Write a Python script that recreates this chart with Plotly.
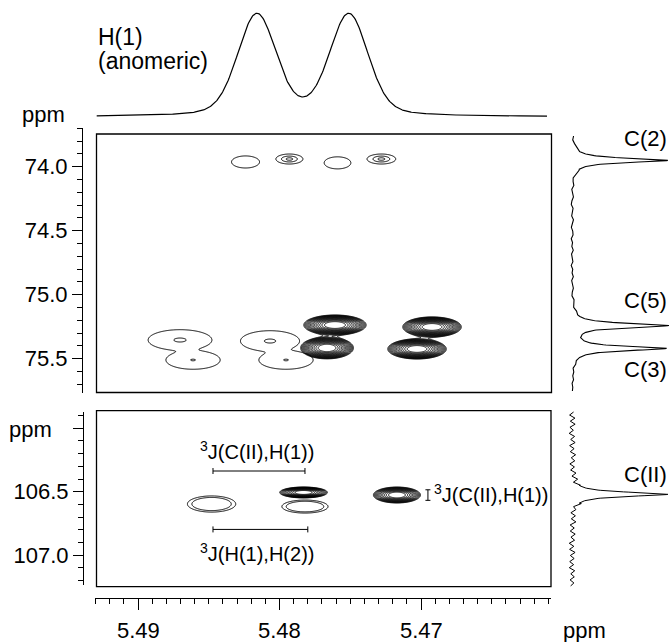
import numpy as np
import plotly.graph_objects as go

W, H = 669, 642
FONT = "Liberation Sans, Arial, Helvetica, sans-serif"

# ---------------- data ----------------
# 1H projection (anomeric H(1) doublet)
h1_centers = [5.4816, 5.4751]
h1_heights = [1.0, 1.0]
h1_sigma = 0.00134
h1_lor_hwhm = 0.00177
h1_lor_frac = 0.25

# 13C projections
c_top_centers = [73.95, 75.24, 75.42]
c_top_heights = [1.0, 1.0, 0.97]
c_top_labels = ["C(2)", "C(5)", "C(3)"]
c_low_centers = [106.52]
c_low_heights = [1.0]
c_low_labels = ["C(II)"]
c_hwhm = 0.02

# baseline wiggles (pixels)
noise_top = [0.5, -0.8, 0.3, 1.0, -0.4, -1.2, 0.6, 0.2, -0.7, 1.1, 0.4, -0.9, -0.3, 0.8, -1.0, 0.2,
             0.9, -0.5, -1.1, 0.7, 0.1, -0.6, 1.2, -0.2, -0.9, 0.5, 0.8, -1.0, 0.3, -0.4, 1.0, -0.7,
             0.2, 0.6, -1.1, 0.4, -0.3, 0.9, -0.8, 0.1, 0.7, -0.5, -1.0, 0.8, 0.3, -0.6, 1.1, -0.2,
             -0.9, 0.5, 0.2, -0.7, 1.0, -0.4, 0.6, -1.0, 0.3, 0.8, -0.5, -0.2, 0.9, -0.8, 0.4, -0.3,
             0.7, -0.6, 0.2, -0.1]
noise_low = [1.5, -2.5, 2.8, -1.8, 3.0, -2.2, 1.2, -3.0, 2.4, -1.5, 2.9, -2.6, 1.8, -2.0, 3.2, -1.2,
             2.2, -2.8, 1.6, -2.4, 2.6, -1.9, 3.0, -2.7, 1.4, -2.1, 2.5, -3.1, 1.9, -1.6, 2.7, -2.3,
             1.3, -2.9, 2.1, -1.7, 3.1, -2.5, 1.7, -2.2, 2.8, -1.4, 2.3, -3.0, 1.6, -2.6, 2.9, -1.8,
             2.0, -2.4, 1.5, -2.8, 2.6, -1.3, 2.2, -2.0, 1.8, -1.5]

# 2D cross peaks (x: 1H ppm, y: 13C ppm, sx/sy: widths, amp)
single_x = [5.4824, 5.4759]; single_y = [73.963, 73.970]
single_sx = [0.00084, 0.00080]; single_sy = [0.040, 0.040]; single_amp = [1.0, 1.0]

ring_x = [5.4793, 5.4728]; ring_y = [73.940, 73.940]
ring_sx = [0.00049, 0.00052]; ring_sy = [0.020, 0.020]; ring_amp = [1.0, 1.0]

pair_x = [5.48703, 5.48611, 5.48067, 5.47954]; pair_y = [75.354, 75.510, 75.362, 75.510]
pair_sx = [0.00095, 0.00082, 0.00088, 0.00082]; pair_sy = [0.034, 0.031, 0.034, 0.031]
pair_amp = [1.0, 0.92, 1.0, 0.92]

bold_x = [5.47608, 5.47664, 5.46922, 5.47028]; bold_y = [75.237, 75.416, 75.252, 75.424]
bold_sx = [0.00098, 0.00083, 0.00092, 0.00092]; bold_sy = [0.035, 0.038, 0.035, 0.035]
bold_amp = [1.0, 1.0, 1.0, 1.0]

lbold_x = [5.4783, 5.4717]; lbold_y = [106.506, 106.526]
lbold_sx = [0.00075, 0.00074]; lbold_sy = [0.0192, 0.028]; lbold_amp = [1.0, 1.0]

lopen_x = [5.4848, 5.4782]; lopen_y = [106.597, 106.617]
lopen_sx = [0.0011, 0.00105]; lopen_sy = [0.041, 0.033]; lopen_amp = [1.0, 1.0]

# coupling bars (ppm)
jbar_top = [5.4847, 5.4782, 106.337]
jbar_bot = [5.4847, 5.4780, 106.797]
jsmall = [5.46951, 106.485, 106.568]

x_ticks = [5.49, 5.48, 5.47]
x_ticktext = ["5.49", "5.48", "5.47"]
yt_ticks = [74.0, 74.5, 75.0, 75.5]
yt_ticktext = ["74.0", "74.5", "75.0", "75.5"]
yb_ticks = [106.0, 106.5, 107.0]
yb_ticktext = ["", "106.5", "107.0"]

# ---------------- geometry helpers ----------------
def X(px):
    return px / W

def Y(py):
    return 1 - py / H

def ppm_h(px):
    return 5.49 - (px - 138.0) / 14150.0

def ppm_ct(py):
    return 74.0 + (py - 166.7) / 128.0

def ppm_cb(py):
    return 106.5 + (py - 491.7) / 127.0

BASE = 572.0   # projection baseline (px)
SPAN = 96.0    # projection full height (px)

# ---------------- compute shapes ----------------
xg = np.linspace(ppm_h(96.5), ppm_h(551), 800)
ygt = np.linspace(ppm_ct(134), ppm_ct(392.5), 480)
ygb = np.linspace(ppm_cb(410.7), ppm_cb(586.7), 360)


def peaks2d(xs, ys, sxs, sys, amps, yg):
    XX, YY = np.meshgrid(xg, yg)
    Z = np.zeros_like(XX)
    for x0, y0, sx, sy, a in zip(xs, ys, sxs, sys, amps):
        Z += a * np.exp(-0.5 * ((XX - x0) / sx) ** 2 - 0.5 * ((YY - y0) / sy) ** 2)
    return Z


def contour(Z, yg, yaxis, start, end, size, width=1.0):
    return go.Contour(x=xg, y=yg, z=Z, yaxis=yaxis, xaxis="x", autocontour=False,
                      contours=dict(coloring="lines", start=start, end=end, size=size),
                      colorscale=[[0, "black"], [1, "black"]], line=dict(width=width, color="black"),
                      showscale=False, hoverinfo="skip")


def logz(Z):
    return np.log(Z + 1e-12)


fig = go.Figure()

fig.add_trace(contour(peaks2d(single_x, single_y, single_sx, single_sy, single_amp, ygt), ygt, "y", 0.5, 0.6, 0.5))
fig.add_trace(contour(peaks2d(ring_x, ring_y, ring_sx, ring_sy, ring_amp, ygt), ygt, "y", 0.15, 0.89, 0.37))
fig.add_trace(contour(peaks2d(pair_x, pair_y, pair_sx, pair_sy, pair_amp, ygt), ygt, "y", 0.06, 0.9, 0.84))
# dense (geometrically spaced) contour levels for the strong cross peaks
fig.add_trace(contour(logz(peaks2d(bold_x, bold_y, bold_sx, bold_sy, bold_amp, ygt)), ygt, "y",
                      np.log(0.08), np.log(0.82), 0.16, 0.9))
fig.add_trace(contour(logz(peaks2d(lbold_x, lbold_y, lbold_sx, lbold_sy, lbold_amp, ygb)), ygb, "y2",
                      np.log(0.08), np.log(0.82), 0.2, 0.9))
fig.add_trace(contour(peaks2d(lopen_x, lopen_y, lopen_sx, lopen_sy, lopen_amp, ygb), ygb, "y2", 0.3, 0.45, 0.15))

# 1H projection on top
xh = np.linspace(ppm_h(96.7), ppm_h(547), 600)
vh = np.zeros_like(xh)
for c, hgt in zip(h1_centers, h1_heights):
    g = np.exp(-0.5 * ((xh - c) / h1_sigma) ** 2)
    l = 1.0 / (1.0 + ((xh - c) / h1_lor_hwhm) ** 2)
    vh += hgt * ((1 - h1_lor_frac) * g + h1_lor_frac * l)
fig.add_trace(go.Scatter(x=xh, y=vh, xaxis="x", yaxis="y5", mode="lines",
                         line=dict(color="black", width=1.2), hoverinfo="skip"))


def projection(centers, heights, y0, y1, noise, dense_n):
    ynoise = np.linspace(y0, y1, len(noise))
    keep = [i for i, yy in enumerate(ynoise) if min(abs(yy - c) for c in centers) > 0.07]
    pts_y = list(ynoise[keep])
    pts_n = [noise[i] / SPAN for i in keep]
    for c in centers:
        d = np.linspace(c - 0.07, c + 0.07, dense_n)
        pts_y += list(d)
        pts_n += [0.0] * dense_n
    order = np.argsort(pts_y)
    ys = np.array(pts_y)[order]
    ns = np.array(pts_n)[order]
    v = np.zeros_like(ys)
    for c, hgt in zip(centers, heights):
        v += hgt / (1.0 + ((ys - c) / c_hwhm) ** 2)
    return v + ns, ys


vt, yt = projection(c_top_centers, c_top_heights, ppm_ct(136), ppm_ct(391), noise_top, 80)
fig.add_trace(go.Scatter(x=vt, y=yt, xaxis="x2", yaxis="y", mode="lines",
                         line=dict(color="black", width=1.1), hoverinfo="skip"))
vb, yb = projection(c_low_centers, c_low_heights, ppm_cb(412), ppm_cb(586), noise_low, 80)
fig.add_trace(go.Scatter(x=vb, y=yb, xaxis="x2", yaxis="y2", mode="lines",
                         line=dict(color="black", width=1.0), hoverinfo="skip"))

# dummy traces to make tick axes exist
fig.add_trace(go.Scatter(x=[None], y=[None], xaxis="x", yaxis="y3", showlegend=False, hoverinfo="skip"))
fig.add_trace(go.Scatter(x=[None], y=[None], xaxis="x", yaxis="y4", showlegend=False, hoverinfo="skip"))

# ---------------- shapes ----------------
shapes = []
box = dict(type="rect", xref="paper", yref="paper", line=dict(color="black", width=1.3), fillcolor="rgba(0,0,0,0)")
shapes.append(dict(box, x0=X(96.5), x1=X(551.5), y0=Y(392.5), y1=Y(134)))
shapes.append(dict(box, x0=X(96.5), x1=X(551), y0=Y(586.7), y1=Y(410.7)))

cap_y = 3.0 / 127.0
for xa, xb, yy in [jbar_top, jbar_bot]:
    shapes.append(dict(type="line", xref="x", yref="y2", x0=xa, x1=xb, y0=yy, y1=yy, line=dict(color="black", width=1)))
    for xe in (xa, xb):
        shapes.append(dict(type="line", xref="x", yref="y2", x0=xe, x1=xe, y0=yy - cap_y, y1=yy + cap_y,
                           line=dict(color="black", width=1)))
xs_, ya_, yb_ = jsmall
capw = 2.5 / 14150.0
shapes.append(dict(type="line", xref="x", yref="y2", x0=xs_, x1=xs_, y0=ya_, y1=yb_, line=dict(color="black", width=1)))
for yy in (ya_, yb_):
    shapes.append(dict(type="line", xref="x", yref="y2", x0=xs_ - capw, x1=xs_ + capw, y0=yy, y1=yy,
                       line=dict(color="black", width=1)))

# ---------------- annotations ----------------
ann = []


def text(t, px, py, size=22, xanchor="center"):
    ann.append(dict(text=t, x=X(px), y=Y(py), xref="paper", yref="paper", showarrow=False,
                    xanchor=xanchor, yanchor="middle", font=dict(family=FONT, size=size, color="black")))


text("H(1)", 96, 37, 23, "left")
text("(anomeric)", 96, 61, 23, "left")
text("ppm", 67, 115, 22, "right")
text("ppm", 54, 429, 22, "right")
text("ppm", 584, 630, 22)
text(c_top_labels[0], 645, 139, 22)
text(c_top_labels[1], 645, 300, 22)
text(c_top_labels[2], 645, 369, 22)
text(c_low_labels[0], 645, 474, 22)
text("<sup>3</sup>J(C(II),H(1))", 257, 450, 20)
text("<sup>3</sup>J(H(1),H(2))", 257, 552, 20)
text("<sup>3</sup>J(C(II),H(1))", 432, 493, 20, "left")
# bottom tick labels placed at their ppm values
for tv, tt in zip(x_ticks, x_ticktext):
    ann.append(dict(text=tt, x=tv, xref="x", y=Y(630), yref="paper", showarrow=False,
                    xanchor="center", yanchor="middle", font=dict(family=FONT, size=22, color="black")))

# ---------------- layout ----------------
tickfont = dict(family=FONT, size=22, color="black")
hidden = dict(visible=False, showgrid=False, zeroline=False, fixedrange=True)

fig.update_layout(
    width=W, height=H, margin=dict(l=0, r=0, t=0, b=0),
    paper_bgcolor="white", plot_bgcolor="rgba(0,0,0,0)", showlegend=False,
    shapes=shapes, annotations=ann,
    xaxis=dict(domain=[X(95), X(550.5)], range=[ppm_h(95), ppm_h(550.5)], anchor="free", position=Y(598),
               showline=True, linecolor="black", linewidth=1, ticks="outside", ticklen=11, tickwidth=1,
               tickcolor="black", tickmode="array", tickvals=x_ticks, ticktext=x_ticktext,
               showticklabels=False, showgrid=False, zeroline=False, fixedrange=True,
               minor=dict(ticks="outside", ticklen=5, tickwidth=1, tickcolor="black", dtick=0.001,
                          tick0=5.47, showgrid=False)),
    xaxis2=dict(hidden, domain=[X(560), 1.0], range=[(560 - BASE) / SPAN, (669 - BASE) / SPAN], anchor="y"),
    yaxis=dict(hidden, domain=[Y(392.5), Y(134)], range=[ppm_ct(392.5), ppm_ct(134)], anchor="x"),
    yaxis2=dict(hidden, domain=[Y(586.7), Y(410.7)], range=[ppm_cb(586.7), ppm_cb(410.7)], anchor="x"),
    yaxis3=dict(domain=[Y(393), Y(128)], range=[ppm_ct(393), ppm_ct(128)], anchor="free", position=X(82),
                side="left", showline=True, linecolor="black", linewidth=1, ticks="outside", ticklen=10,
                tickwidth=1, tickcolor="black", tickmode="array", tickvals=yt_ticks, ticktext=yt_ticktext,
                tickfont=tickfont, showgrid=False, zeroline=False, fixedrange=True,
                minor=dict(ticks="outside", ticklen=5, tickwidth=1, tickcolor="black", dtick=0.1,
                           tick0=74.0, showgrid=False)),
    yaxis4=dict(domain=[Y(585), Y(411.7)], range=[ppm_cb(585), ppm_cb(411.7)], anchor="free", position=X(83),
                side="left", showline=True, linecolor="black", linewidth=1, ticks="outside", ticklen=10,
                tickwidth=1, tickcolor="black", tickmode="array", tickvals=yb_ticks, ticktext=yb_ticktext,
                tickfont=tickfont, showgrid=False, zeroline=False, fixedrange=True,
                minor=dict(ticks="outside", ticklen=5, tickwidth=1, tickcolor="black", dtick=0.1,
                           tick0=106.0, showgrid=False)),
    yaxis5=dict(hidden, domain=[Y(125), 1.0], range=[-0.0816, 1.1475], anchor="x"),
)

fig.write_html("out.html", config={"displayModeBar": False},
               post_script="document.body.style.margin='0';document.body.style.overflow='hidden';")
